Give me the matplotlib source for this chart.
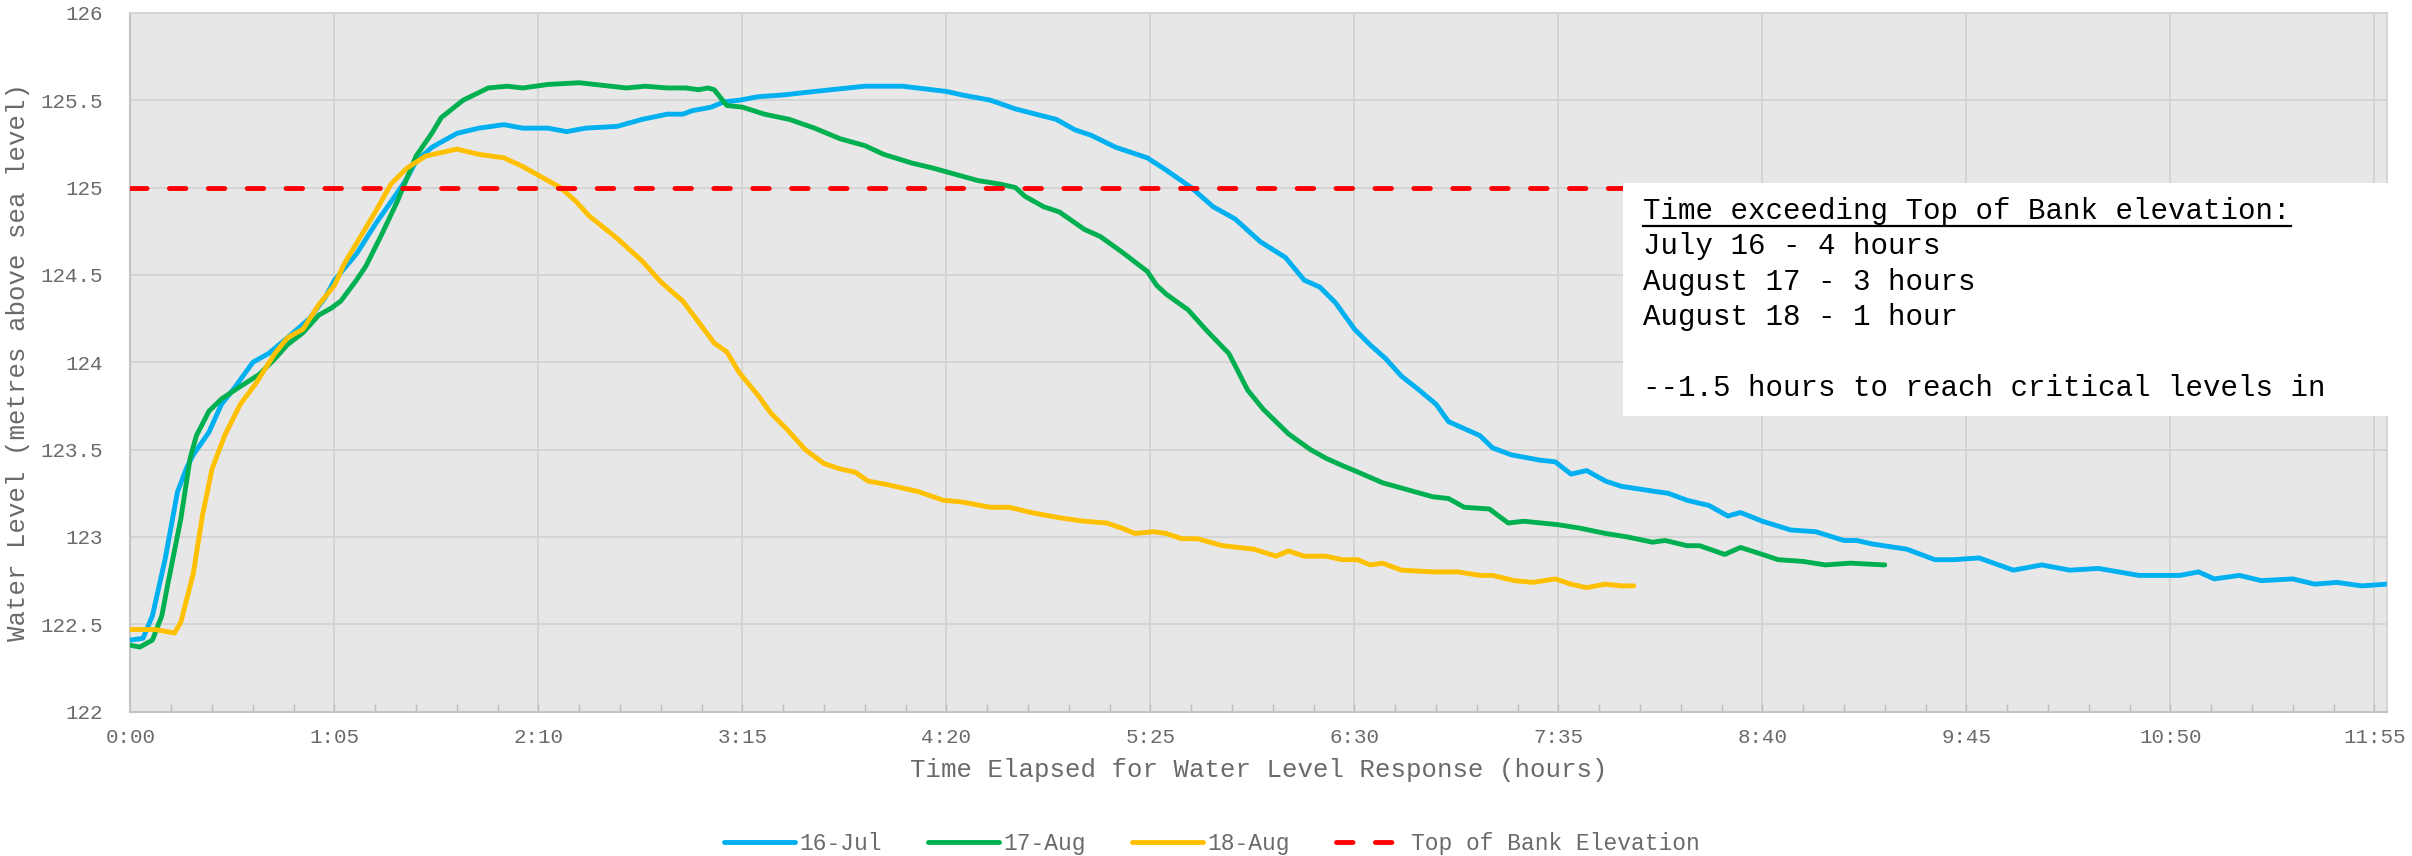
import matplotlib
matplotlib.use("Agg")
import matplotlib.pyplot as plt
from matplotlib.patches import Rectangle
from matplotlib.lines import Line2D
import numpy as np

# ---------------- data (minutes elapsed, water level m) ----------------
jul16_t = [0, 4, 7, 11, 15, 18, 20, 25, 29, 33, 39, 44, 50, 57, 62, 65, 72, 78, 85, 88, 91, 96, 104, 111, 119, 125,
           133, 139, 145, 155, 163, 171, 176, 179, 185, 189, 194, 200, 208, 218, 234, 246, 260, 265, 274, 282, 295,
           301, 306, 314, 324, 330, 338, 345, 352, 360, 368, 374, 379, 384, 390, 395, 400, 405, 410, 416, 420, 425,
           430, 434, 440, 449, 454, 459, 464, 470, 475, 486, 490, 496, 503, 509, 513, 520, 529, 537, 546, 550, 555,
           566, 575, 581, 589, 600, 609, 618, 627, 640, 653, 659, 664, 672, 679, 689, 696, 703, 711, 719]
jul16_v = [122.41, 122.42, 122.55, 122.87, 123.26, 123.40, 123.47, 123.60, 123.76, 123.85, 124.00, 124.05, 124.14,
           124.25, 124.37, 124.47, 124.62, 124.79, 124.97, 125.05, 125.15, 125.23, 125.31, 125.34, 125.36, 125.34,
           125.34, 125.32, 125.34, 125.35, 125.39, 125.42, 125.42, 125.44, 125.46, 125.49, 125.50, 125.52, 125.53,
           125.55, 125.58, 125.58, 125.55, 125.53, 125.50, 125.45, 125.39, 125.33, 125.30, 125.23, 125.17, 125.10,
           125.00, 124.89, 124.82, 124.69, 124.60, 124.47, 124.43, 124.34, 124.19, 124.10, 124.02, 123.92, 123.85,
           123.76, 123.66, 123.62, 123.58, 123.51, 123.47, 123.44, 123.43, 123.36, 123.38, 123.32, 123.29, 123.26,
           123.25, 123.21, 123.18, 123.12, 123.14, 123.09, 123.04, 123.03, 122.98, 122.98, 122.96, 122.93, 122.87,
           122.87, 122.88, 122.81, 122.84, 122.81, 122.82, 122.78, 122.78, 122.80, 122.76, 122.78, 122.75, 122.76,
           122.73, 122.74, 122.72, 122.73]

aug17_t = [0, 3, 7, 10, 12, 16, 19, 21, 25, 29, 34, 41, 46, 50, 55, 60, 64, 67, 72, 75, 80, 85, 88, 91, 96, 99, 106,
           114, 120, 125, 133, 143, 153, 158, 164, 171, 177, 181, 184, 186, 190, 195, 202, 210, 218, 226, 234, 240,
           249, 256, 262, 270, 277, 282, 285, 291, 296, 304, 309, 316, 324, 327, 330, 337, 343, 350, 356, 361, 369,
           376, 381, 386, 390, 399, 407, 415, 420, 425, 433, 439, 444, 455, 462, 470, 477, 485, 489, 496, 500, 508,
           513, 520, 525, 533, 540, 548, 559]
aug17_v = [122.38, 122.37, 122.41, 122.55, 122.74, 123.10, 123.45, 123.58, 123.72, 123.79, 123.85, 123.93, 124.02,
           124.10, 124.17, 124.27, 124.31, 124.35, 124.47, 124.55, 124.73, 124.92, 125.05, 125.18, 125.31, 125.40,
           125.50, 125.57, 125.58, 125.57, 125.59, 125.60, 125.58, 125.57, 125.58, 125.57, 125.57, 125.56, 125.57,
           125.56, 125.47, 125.46, 125.42, 125.39, 125.34, 125.28, 125.24, 125.19, 125.14, 125.11, 125.08, 125.04,
           125.02, 125.00, 124.95, 124.89, 124.86, 124.76, 124.72, 124.63, 124.52, 124.44, 124.39, 124.30, 124.18,
           124.05, 123.84, 123.73, 123.59, 123.50, 123.45, 123.41, 123.38, 123.31, 123.27, 123.23, 123.22, 123.17,
           123.16, 123.08, 123.09, 123.07, 123.05, 123.02, 123.00, 122.97, 122.98, 122.95, 122.95, 122.90, 122.94,
           122.90, 122.87, 122.86, 122.84, 122.85, 122.84]

aug18_t = [0, 8, 14, 16, 20, 23, 26, 30, 35, 40, 46, 50, 55, 60, 65, 68, 73, 78, 83, 88, 94, 104, 111, 119, 125, 132,
           137, 142, 146, 155, 163, 169, 176, 181, 186, 190, 194, 200, 204, 209, 215, 221, 226, 231, 235, 241, 251,
           259, 265, 274, 280, 287, 296, 304, 311, 316, 320, 326, 330, 335, 340, 348, 358, 365, 369, 374, 381, 386,
           391, 395, 399, 405, 415, 423, 430, 434, 441, 447, 454, 459, 464, 470, 475, 479]
aug18_v = [122.47, 122.47, 122.45, 122.51, 122.79, 123.13, 123.39, 123.58, 123.76, 123.88, 124.05, 124.14, 124.19,
           124.33, 124.44, 124.56, 124.71, 124.86, 125.02, 125.11, 125.18, 125.22, 125.19, 125.17, 125.12, 125.05,
           125.00, 124.92, 124.84, 124.71, 124.58, 124.46, 124.35, 124.23, 124.11, 124.06, 123.94, 123.81, 123.71,
           123.62, 123.50, 123.42, 123.39, 123.37, 123.32, 123.30, 123.26, 123.21, 123.20, 123.17, 123.17, 123.14,
           123.11, 123.09, 123.08, 123.05, 123.02, 123.03, 123.02, 122.99, 122.99, 122.95, 122.93, 122.89, 122.92,
           122.89, 122.89, 122.87, 122.87, 122.84, 122.85, 122.81, 122.80, 122.80, 122.78, 122.78, 122.75, 122.74,
           122.76, 122.73, 122.71, 122.73, 122.72, 122.72]

top_of_bank = 125.0
series_labels = ["16-Jul", "17-Aug", "18-Aug", "Top of Bank Elevation"]
x_tick_minutes = [0, 65, 130, 195, 260, 325, 390, 455, 520, 585, 650, 715]
x_tick_labels = ["0:00", "1:05", "2:10", "3:15", "4:20", "5:25", "6:30", "7:35", "8:40", "9:45", "10:50", "11:55"]
y_ticks = [122, 122.5, 123, 123.5, 124, 124.5, 125, 125.5, 126]
y_tick_labels = ["122", "122.5", "123", "123.5", "124", "124.5", "125", "125.5", "126"]
note_title = "Time exceeding Top of Bank elevation:"
note_lines = ["July 16 - 4 hours", "August 17 - 3 hours", "August 18 - 1 hour", "",
              "--1.5 hours to reach critical levels in"]

# ---------------- style ----------------
FONT = ["Liberation Mono", "DejaVu Sans Mono"]
plt.rcParams["font.family"] = FONT
BLUE, GREEN, YELLOW, RED = "#00B0F0", "#00B050", "#FFC000", "#FF0000"
BG = "#E7E7E7"
GRID = "#D3D3D3"
TXT = "#6A6A6A"

fig = plt.figure(figsize=(24.12, 8.56), dpi=100)
ax = fig.add_axes([0.0541, 0.1686, 0.9355, 0.8164])
ax.set_facecolor(BG)

lw = 3.5
ax.plot(jul16_t, jul16_v, color=BLUE, lw=lw, solid_joinstyle="round", solid_capstyle="round", label=series_labels[0], zorder=3)
ax.plot(aug17_t, aug17_v, color=GREEN, lw=lw, solid_joinstyle="round", solid_capstyle="round", label=series_labels[1], zorder=3)
ax.plot(aug18_t, aug18_v, color=YELLOW, lw=lw, solid_joinstyle="round", solid_capstyle="round", label=series_labels[2], zorder=3)
ax.axhline(top_of_bank, color=RED, lw=lw, dashes=(3.4, 4.6), dash_capstyle="round", label=series_labels[3], zorder=3)

ax.set_xlim(0, 719)
ax.set_ylim(122, 126)
ax.set_xticks(x_tick_minutes)
ax.set_xticklabels(x_tick_labels)
ax.set_xticks(np.arange(0, 720, 13), minor=True)
ax.set_yticks(y_ticks)
ax.set_yticklabels(y_tick_labels)

ax.grid(True, which="major", color=GRID, lw=1.3, zorder=1)
ax.set_axisbelow(True)
ax.tick_params(axis="x", which="both", direction="in", length=6, width=1.0, color="#BDBDBD",
               labelsize=15, labelcolor=TXT, pad=12)
ax.tick_params(axis="y", which="both", length=0, labelsize=15, labelcolor=TXT, pad=20)
for s in ["left", "bottom"]:
    ax.spines[s].set_color("#C4C4C4")
    ax.spines[s].set_linewidth(1.5)
for s in ["top", "right"]:
    ax.spines[s].set_color(GRID)
    ax.spines[s].set_linewidth(1.3)

ax.set_xlabel("Time Elapsed for Water Level Response (hours)", fontsize=18.5, color=TXT, labelpad=8)
ax.set_ylabel("Water Level (metres above sea level)", fontsize=18.5, color=TXT, labelpad=10)
ax.yaxis.set_label_coords(-0.0445, 0.5)

# note box (axes coordinates)
box = Rectangle((0.6615, 0.4225), 0.34, 0.3345, transform=ax.transAxes, facecolor="white",
                edgecolor="none", zorder=5, clip_on=False)
ax.add_patch(box)
tx0 = 0.6705
ty0 = 0.717
dy = 0.0508
t0 = ax.text(tx0, ty0, note_title, transform=ax.transAxes, fontsize=21, color="black",
             va="center", ha="left", zorder=6)
for i, line in enumerate(note_lines):
    ax.text(tx0, ty0 - dy * (i + 1), line, transform=ax.transAxes, fontsize=21, color="black",
            va="center", ha="left", zorder=6)
fig.canvas.draw()
bb = t0.get_window_extent(fig.canvas.get_renderer())
inv = ax.transAxes.inverted()
(x0, y0), (x1, y1) = inv.transform([(bb.x0, bb.y0), (bb.x1, bb.y0)])
ax.add_line(Line2D([x0, x1], [y0 - 0.002, y0 - 0.002], transform=ax.transAxes, color="black", lw=1.6, zorder=6))

leg = fig.legend(loc="center", bbox_to_anchor=(0.5025, 0.0145), ncol=4, frameon=False,
                 fontsize=16.5, handlelength=3.1, handletextpad=0.2, columnspacing=2.0)
for t in leg.get_texts():
    t.set_color(TXT)

fig.savefig("out.png", dpi=100, facecolor="white")
